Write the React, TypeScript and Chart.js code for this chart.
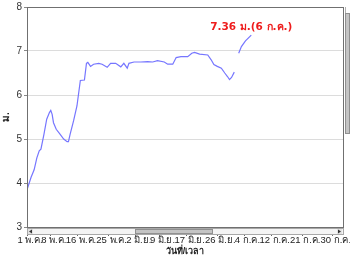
import React, { useEffect, useRef } from "react";
import { Chart, registerables } from "chart.js";

Chart.register(...registerables);

// day offset from 1 May
const days = [
  0.1, 1.2, 2.1, 2.9, 3.6, 4.1, 5.0, 5.8, 6.6, 7.0, 7.4, 7.8, 8.6, 9.6, 10.8, 11.8, 12.2, 12.7, 13.7, 14.7,
  15.7, 16.9, 17.5, 17.9, 18.7, 19.6, 21.1, 22.1, 23.6, 24.6, 26.1, 27.6, 28.5, 29.5, 30.0, 31.5, 33.5, 35.5,
  37.0, 38.4, 40.4, 41.4, 42.9, 43.9, 45.3, 47.3, 48.5, 49.3, 50.8, 53.2, 54.2, 55.0, 56.0, 57.2, 58.2, 59.0,
  59.6, 60.2, 61.0, 61.6, 62.3, 63.1, 64.3, 66.0,
];
const levels = [
  3.87, 4.13, 4.3, 4.57, 4.73, 4.77, 5.11, 5.45, 5.6, 5.65, 5.56, 5.37, 5.22, 5.12, 5.0, 4.94, 4.94, 5.11, 5.41, 5.75,
  6.33, 6.34, 6.72, 6.74, 6.65, 6.7, 6.72, 6.7, 6.63, 6.72, 6.72, 6.64, 6.72, 6.61, 6.72, 6.75, 6.75, 6.76,
  6.75, 6.78, 6.75, 6.7, 6.7, 6.85, 6.87, 6.87, 6.95, 6.97, 6.93, 6.91, 6.8, 6.69, 6.65, 6.61, 6.5, 6.42,
  6.35, 6.4, 6.52, null, 6.95, 7.1, 7.23, 7.36,
];
const tickDays = [0, 7, 15, 24, 32, 39, 47, 56, 64, 72, 81, 90];
const tickLabels = [
  "1 พ.ค.", "8 พ.ค.", "16 พ.ค.", "25 พ.ค.", "2 มิ.ย.", "9 มิ.ย.", "17 มิ.ย.", "26 มิ.ย.",
  "4 ก.ค.", "12 ก.ค.", "21 ก.ค.", "30 ก.ค.",
];
const yTicks = [3, 4, 5, 6, 7, 8];
const peakDay = 66;
const peakValue = 7.36;
const peakLabel = "7.36 ม.(6 ก.ค.)";

const FONT = "'Liberation Sans', 'DejaVu Sans', sans-serif";

const decor = {
  id: "decor",
  afterDraw(chart: any) {
    const { ctx, chartArea: a } = chart;
    ctx.save();
    // border
    ctx.strokeStyle = "#707070";
    ctx.lineWidth = 1;
    ctx.strokeRect(Math.round(a.left) + 0.5, Math.round(a.top) + 0.5, Math.round(a.right - a.left), Math.round(a.bottom - a.top));
    // bottom scrollbar
    const y0 = Math.round(a.bottom) + 1;
    const h = 7;
    const w = a.right - a.left;
    ctx.fillStyle = "#f4f4f4";
    ctx.fillRect(a.left, y0, w, h);
    ctx.strokeStyle = "#a8a8a8";
    ctx.strokeRect(Math.round(a.left) + 0.5, y0 + 0.5, Math.round(w), h - 1);
    ctx.fillStyle = "#e2e2e2";
    ctx.fillRect(a.left + 1, y0 + 1, 5, h - 2);
    ctx.fillRect(a.right - 6, y0 + 1, 5, h - 2);
    ctx.fillStyle = "#333";
    ctx.beginPath();
    ctx.moveTo(a.left + 2, y0 + 3.5);
    ctx.lineTo(a.left + 5, y0 + 1.5);
    ctx.lineTo(a.left + 5, y0 + 5.5);
    ctx.fill();
    ctx.beginPath();
    ctx.moveTo(a.right - 2, y0 + 3.5);
    ctx.lineTo(a.right - 5, y0 + 1.5);
    ctx.lineTo(a.right - 5, y0 + 5.5);
    ctx.fill();
    const t0 = a.left + w * 0.343;
    const t1 = a.left + w * 0.587;
    ctx.fillStyle = "#c4c4c4";
    ctx.fillRect(t0, y0 + 1, t1 - t0, h - 2);
    ctx.strokeStyle = "#909090";
    ctx.strokeRect(Math.round(t0) + 0.5, y0 + 1.5, Math.round(t1 - t0), h - 3);
    // right scrollbar
    const x0 = Math.round(a.right) + 1;
    ctx.fillStyle = "#c4c4c4";
    ctx.fillRect(x0 + 1, 13, 5, 120);
    ctx.strokeStyle = "#909090";
    ctx.strokeRect(x0 + 1.5, 13.5, 4, 120);
    ctx.strokeStyle = "#b0b0b0";
    ctx.beginPath();
    ctx.moveTo(x0 + 1.5, a.top);
    ctx.lineTo(x0 + 1.5, 13);
    ctx.stroke();
    // annotation
    const xs = chart.scales.x;
    const ys = chart.scales.y;
    ctx.font = "bold 10.5px 'DejaVu Sans', sans-serif";
    ctx.fillStyle = "#ee1c1c";
    ctx.textAlign = "center";
    ctx.textBaseline = "middle";
    ctx.fillText(peakLabel, xs.getPixelForValue(peakDay), ys.getPixelForValue(peakValue) - 8);
    ctx.restore();
  },
};

export default function App() {
  const ref = useRef<HTMLCanvasElement>(null);
  useEffect(() => {
    const data = days.map((d, i) => ({ x: d, y: levels[i] }));
    const chart = new Chart(ref.current!, {
      type: "line",
      data: {
        datasets: [
          {
            data: data as any,
            borderColor: "#7676ff",
            borderWidth: 1.2,
            pointRadius: 0,
            tension: 0,
            spanGaps: false,
          },
        ],
      },
      options: {
        animation: false,
        responsive: false,
        maintainAspectRatio: false,
        layout: { padding: { top: 0, right: 7, left: 0, bottom: 0 } },
        plugins: { legend: { display: false }, tooltip: { enabled: false } },
        scales: {
          x: {
            type: "linear",
            min: 0,
            max: 93,
            afterBuildTicks: (s: any) => {
              s.ticks = tickDays.map((v) => ({ value: v }));
            },
            afterFit: (s: any) => {
              s.height = 29;
            },
            grid: { drawOnChartArea: false, drawTicks: true, tickLength: 9, color: "#666" },
            border: { display: false },
            ticks: {
              autoSkip: false,
              maxRotation: 0,
              padding: 0,
              labelOffset: 3,
              color: "#222",
              font: { family: FONT, size: 9.5, lineHeight: 1 },
              callback: (v: any) => {
                const i = tickDays.indexOf(Number(v));
                return i >= 0 ? tickLabels[i] : "";
              },
            },
            title: {
              display: true,
              text: "วันที่/เวลา",
              color: "#222",
              font: { family: FONT, size: 9, weight: "bold", lineHeight: 1 },
              padding: { top: 0, bottom: 0 },
            },
          },
          y: {
            min: 3,
            max: 8,
            afterBuildTicks: (s: any) => {
              s.ticks = yTicks.map((v) => ({ value: v }));
            },
            afterFit: (s: any) => {
              s.width = 27;
            },
            grid: { color: "#dcdcdc", tickLength: 3, drawTicks: true, tickColor: "#888" } as any,
            border: { display: false },
            ticks: { color: "#333", padding: 2, font: { family: FONT, size: 10, lineHeight: 1 } },
            title: {
              display: true,
              text: "ม.",
              color: "#222",
              font: { family: FONT, size: 10, weight: "bold" },
              padding: 0,
            },
          },
        },
      },
      plugins: [decor],
    });
    return () => chart.destroy();
  }, []);
  return (
    <div style={{ position: "fixed", left: 0, top: 0, width: 350, height: 256, background: "#fff" }}>
      <canvas ref={ref} width={350} height={256} />
    </div>
  );
}
